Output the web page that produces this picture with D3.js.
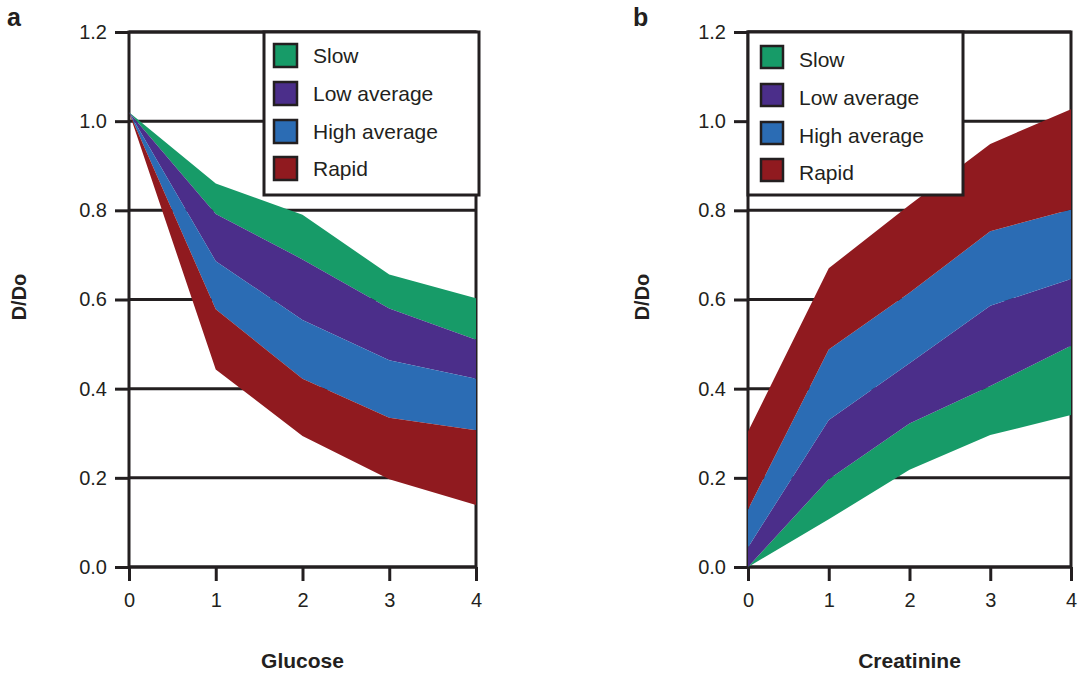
<!DOCTYPE html>
<html>
<head>
<meta charset="utf-8">
<script src="https://cdn.jsdelivr.net/npm/d3@7"></script>
<style>
  body { margin: 0; background: #fff; }
  text { font-family: "Liberation Sans", Arial, Helvetica, sans-serif; fill: #231f20; }
</style>
</head>
<body>
<svg id="chart" width="1084" height="673"></svg>
<script>
var xTicks = [0, 1, 2, 3, 4];
var xTickLabels = ["0", "1", "2", "3", "4"];
var yTicks = [0, 0.2, 0.4, 0.6, 0.8, 1.0, 1.2];
var yTickLabels = ["0.0", "0.2", "0.4", "0.6", "0.8", "1.0", "1.2"];
var groups = ["Slow", "Low average", "High average", "Rapid"];
var colors = ["#179b68", "#4b2e8a", "#2b6cb4", "#901a1f"];

// panel a, glucose: band edges, top to bottom
var gluSlowTop = [1.02, 0.86, 0.79, 0.656, 0.603];
var gluLowTop = [1.02, 0.792, 0.69, 0.58, 0.51];
var gluHighTop = [1.02, 0.686, 0.554, 0.464, 0.422];
var gluRapidTop = [1.02, 0.578, 0.422, 0.335, 0.307];
var gluRapidBottom = [1.02, 0.443, 0.294, 0.197, 0.139];

// panel b, creatinine: band edges, bottom to top
var creSlowBottom = [0, 0.107, 0.218, 0.296, 0.341];
var creSlowTop = [0, 0.197, 0.322, 0.406, 0.496];
var creLowTop = [0.044, 0.33, 0.457, 0.586, 0.646];
var creHighTop = [0.129, 0.488, 0.615, 0.753, 0.802];
var creRapidTop = [0.304, 0.67, 0.812, 0.949, 1.027];

var svg = d3.select("#chart");
var ink = "#231f20";

var panels = [
  { letter: "a", title: "Glucose", x0: 129, x1: 476, letterX: 7, ylabX: 26,
    bands: [[gluLowTop, gluSlowTop], [gluHighTop, gluLowTop],
            [gluRapidTop, gluHighTop], [gluRapidBottom, gluRapidTop]],
    leg: { x: 264, w: 215, sx: 274, ss: 23, tops: [44, 82, 120, 157], tx: 313, dy: 19 } },
  { letter: "b", title: "Creatinine", x0: 748, x1: 1071, letterX: 633, ylabX: 649,
    bands: [[creSlowBottom, creSlowTop], [creSlowTop, creLowTop],
            [creLowTop, creHighTop], [creHighTop, creRapidTop]],
    leg: { x: 748, w: 215, sx: 761, ss: 22, tops: [46, 84, 122, 159], tx: 799, dy: 21 } }
];

var y = d3.scaleLinear().domain([0, 1.2]).range([567, 32]);

panels.forEach(function(p) {
  var x = d3.scaleLinear().domain([0, 4]).range([p.x0, p.x1]);
  var g = svg.append("g");

  // gridlines
  g.selectAll("line.grid")
    .data(yTicks)
    .enter().append("line")
    .attr("class", "grid")
    .attr("x1", p.x0).attr("x2", p.x1)
    .attr("y1", function(d) { return y(d); })
    .attr("y2", function(d) { return y(d); })
    .attr("stroke", ink).attr("stroke-width", 3);

  // frame
  g.append("rect")
    .attr("x", p.x0).attr("y", y(1.2))
    .attr("width", p.x1 - p.x0).attr("height", y(0) - y(1.2))
    .attr("fill", "none").attr("stroke", ink).attr("stroke-width", 3);

  // axes
  var ya = d3.axisLeft(y).tickValues(yTicks)
    .tickFormat(function(d, i) { return yTickLabels[i]; })
    .tickSize(14).tickPadding(8);
  var ay = g.append("g").attr("transform", "translate(" + p.x0 + ",0)").call(ya);

  var xa = d3.axisBottom(x).tickValues(xTicks)
    .tickFormat(function(d, i) { return xTickLabels[i]; })
    .tickSize(14).tickPadding(12);
  var ax = g.append("g").attr("transform", "translate(0," + y(0) + ")").call(xa);

  [ay, ax].forEach(function(a) {
    a.select(".domain").remove();
    a.selectAll("line").attr("stroke", ink).attr("stroke-width", 3);
    a.selectAll("text").attr("font-size", 20).attr("font-family", null).attr("fill", ink);
  });

  // bands
  var area = d3.area()
    .x(function(d) { return x(d.x); })
    .y0(function(d) { return y(d.lo); })
    .y1(function(d) { return y(d.hi); });

  p.bands.forEach(function(b, i) {
    var pts = xTicks.map(function(v, j) { return { x: v, lo: b[0][j], hi: b[1][j] }; });
    g.append("path")
      .datum(pts)
      .attr("d", area)
      .attr("fill", colors[i]);
  });

  // legend
  var L = p.leg;
  var lg = g.append("g");
  lg.append("rect")
    .attr("x", L.x).attr("y", 32)
    .attr("width", L.w).attr("height", 163)
    .attr("fill", "#fff").attr("stroke", ink).attr("stroke-width", 3);
  var item = lg.selectAll("g.item")
    .data(groups)
    .enter().append("g").attr("class", "item");
  item.append("rect")
    .attr("x", L.sx)
    .attr("y", function(d, i) { return L.tops[i]; })
    .attr("width", L.ss).attr("height", L.ss)
    .attr("fill", function(d, i) { return colors[i]; })
    .attr("stroke", ink).attr("stroke-width", 2.5);
  item.append("text")
    .attr("x", L.tx)
    .attr("y", function(d, i) { return L.tops[i] + L.dy; })
    .attr("font-size", 21)
    .text(function(d) { return d; });

  // titles
  g.append("text")
    .attr("x", p.letterX).attr("y", 26)
    .attr("font-size", 25).attr("font-weight", "bold")
    .text(p.letter);

  g.append("text")
    .attr("transform", "translate(" + p.ylabX + ",297) rotate(-90)")
    .attr("text-anchor", "middle")
    .attr("font-size", 20).attr("font-weight", "bold")
    .text("D/Do");

  g.append("text")
    .attr("x", (p.x0 + p.x1) / 2).attr("y", 668)
    .attr("text-anchor", "middle")
    .attr("font-size", 21).attr("font-weight", "bold")
    .text(p.title);
});
</script>
</body>
</html>
